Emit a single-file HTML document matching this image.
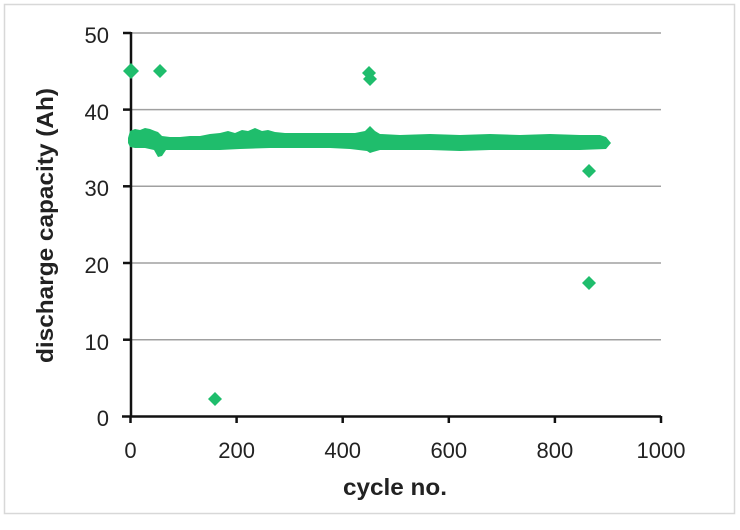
<!DOCTYPE html>
<html><head><meta charset="utf-8"><style>
html,body{margin:0;padding:0;background:#fff;}
svg{display:block;}
text{font-family:"Liberation Sans",Arial,sans-serif;fill:#222;}
</style></head><body>
<svg width="740" height="530" viewBox="0 0 740 530" xmlns="http://www.w3.org/2000/svg">
<rect x="0" y="0" width="740" height="530" fill="#fff"/>
<rect x="4.5" y="4.5" width="730" height="509" fill="#fff" stroke="#d8d8d8" stroke-width="1.5"/>
<!-- gridlines -->
<g stroke="#a0a0a0" stroke-width="1.5">
<line x1="131" y1="33" x2="661" y2="33"/>
<line x1="131" y1="109.6" x2="661" y2="109.6"/>
<line x1="131" y1="186.3" x2="661" y2="186.3"/>
<line x1="131" y1="263" x2="661" y2="263"/>
<line x1="131" y1="339.7" x2="661" y2="339.7"/>
</g>
<!-- axes -->
<g stroke="#111" stroke-width="2.5" fill="none">
<line x1="131" y1="32" x2="131" y2="417"/>
<line x1="122" y1="416.5" x2="661" y2="416.5"/>
<line x1="123" y1="33" x2="131" y2="33"/>
<line x1="123" y1="109.6" x2="131" y2="109.6"/>
<line x1="123" y1="186.3" x2="131" y2="186.3"/>
<line x1="123" y1="263" x2="131" y2="263"/>
<line x1="123" y1="339.7" x2="131" y2="339.7"/>
<line x1="130.5" y1="416" x2="130.5" y2="423"/>
<line x1="236.6" y1="416" x2="236.6" y2="423"/>
<line x1="342.7" y1="416" x2="342.7" y2="423"/>
<line x1="448.8" y1="416" x2="448.8" y2="423"/>
<line x1="554.9" y1="416" x2="554.9" y2="423"/>
<line x1="661" y1="416" x2="661" y2="423"/>
</g>
<!-- y tick labels -->
<g font-size="22" text-anchor="end">
<text x="109" y="43">50</text>
<text x="109" y="120">40</text>
<text x="109" y="196">30</text>
<text x="109" y="273">20</text>
<text x="109" y="350">10</text>
<text x="109" y="426">0</text>
</g>
<!-- x tick labels -->
<g font-size="22" text-anchor="middle">
<text x="130.5" y="458">0</text>
<text x="236.6" y="458">200</text>
<text x="342.7" y="458">400</text>
<text x="448.8" y="458">600</text>
<text x="554.9" y="458">800</text>
<text x="661" y="458">1000</text>
</g>
<!-- axis titles -->
<text x="395" y="495" font-size="23" font-weight="bold" text-anchor="middle" fill="#111" textLength="104" lengthAdjust="spacingAndGlyphs">cycle no.</text>
<text transform="translate(53,225.5) rotate(-90)" x="0" y="0" font-size="23" font-weight="bold" text-anchor="middle" fill="#111" textLength="275" lengthAdjust="spacingAndGlyphs">discharge capacity (Ah)</text>
<!-- data band -->
<g fill="#1fbd6c">
<polygon points="128,138 130,131 135,129 140,130 145,128 150,129 155,131 158,132 162,136 170,137 180,137 190,136 200,136 210,134 220,133 228,131 235,133 242,130 248,131 255,128 262,131 268,130 275,132 285,133 300,133 320,133 340,133 355,133 365,131 370,126 375,131 380,134 400,135 430,134 460,135 490,134 520,135 550,134 580,135 600,135 606,137 611,143 606,149 580,150 550,150 520,150 490,150 460,151 430,150 400,150 380,150 373,152 370,153 367,151 350,149 330,148 300,148 270,148 240,149 220,150 200,150 180,150 166,150 162,156 158,157 154,150 145,148 135,148 130,147 128,143"/>
<!-- outlier diamonds -->
<polygon points="131,63 139,71 131,79 123,71"/>
<polygon points="160,64 167,71 160,78 153,71"/>
<polygon points="369,66 376,73 369,80 362,73"/>
<polygon points="370,72 377,79 370,86 363,79"/>
<polygon points="215,392 222,399 215,406 208,399"/>
<polygon points="589,164 596,171 589,178 582,171"/>
<polygon points="589,276 596,283 589,290 582,283"/>
</g>
</svg>
</body></html>
